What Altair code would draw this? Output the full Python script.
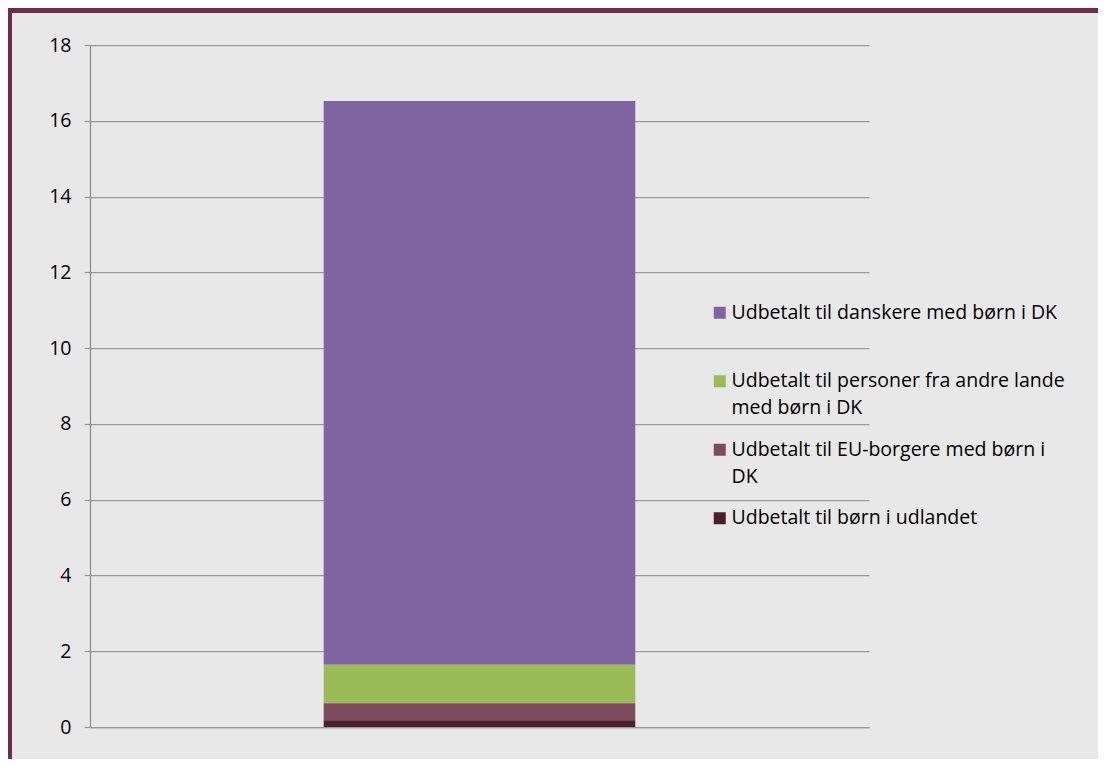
import altair as alt
import pandas as pd

# ---- data ----
group = ["Børnecheck"]
categories = [
    "Udbetalt til danskere med børn i DK\n",
    "Udbetalt til personer fra andre lande\nmed børn i DK",
    "Udbetalt til EU-borgere med børn i\nDK",
    "Udbetalt til børn i udlandet",
]
values = [14.88, 1.01, 0.45, 0.18]
stack_order = [3, 2, 1, 0]          # 0 = bottom of the stack
colors = ["#8064a2", "#9bbb59", "#7f4b5e", "#4a1f2e"]
y_ticks = [0, 2, 4, 6, 8, 10, 12, 14, 16, 18]

FONT = "Open Sans"
FS = 19.5
BG = "#e8e8e8"
FRAME = "#6b2d47"
GRID = "#999999"

df = pd.DataFrame({
    "group": group * len(categories),
    "category": categories,
    "value": values,
    "order": stack_order,
})

W, H = 779, 682
PAD = {"left": 82, "top": 37, "right": 229, "bottom": 32}

bars = alt.Chart(df).mark_bar(strokeWidth=0).encode(
    x=alt.X("group:N",
            scale=alt.Scale(paddingInner=0, paddingOuter=0.75),
            axis=alt.Axis(labels=False, ticks=False, title=None,
                          domainColor=GRID, domainWidth=1.25, grid=False)),
    y=alt.Y("value:Q", stack=True,
            scale=alt.Scale(domain=[0, 18], nice=False),
            axis=alt.Axis(values=y_ticks, title=None, grid=True,
                          gridColor=GRID, gridWidth=1.25,
                          domainColor="#8c8c8c", domainWidth=1.25,
                          tickColor=GRID, tickWidth=1.25, tickSize=6,
                          labelFont=FONT, labelFontSize=FS, labelColor="#000000",
                          labelPadding=13)),
    color=alt.Color("category:N",
                    scale=alt.Scale(domain=categories, range=colors),
                    legend=alt.Legend(title=None, orient="none",
                                      legendX=620, legendY=258,
                                      symbolType="square", symbolSize=144,
                                      symbolStrokeWidth=0,
                                      labelFont=FONT, labelFontSize=FS,
                                      labelColor="#000000", labelLimit=500,
                                      labelOffset=2, rowPadding=20.5, padding=0,
                                      labelExpr="split(datum.label, '\\n')")),
    order=alt.Order("order:Q", sort="ascending"),
)

# decorative maroon frame (top band and left band)
frame_top = alt.Chart(alt.Data(values=[{}])).mark_rect(color=FRAME).encode(
    x=alt.value(-PAD["left"]), x2=alt.value(W + PAD["right"]),
    y=alt.value(-PAD["top"]), y2=alt.value(-PAD["top"] + 5),
)
frame_left = alt.Chart(alt.Data(values=[{}])).mark_rect(color=FRAME).encode(
    x=alt.value(-PAD["left"]), x2=alt.value(-PAD["left"] + 4),
    y=alt.value(-PAD["top"]), y2=alt.value(H + PAD["bottom"]),
)

chart = alt.layer(frame_top, frame_left, bars).properties(
    width=W, height=H,
    padding=PAD,
    autosize=alt.AutoSizeParams(type="none"),
    background=BG,
).configure(
    view=alt.ViewConfig(stroke=None),
    style={"guide-label": {"lineHeight": 27}},
)

chart.save("out.html", embed_options={"renderer": "svg", "actions": False})
